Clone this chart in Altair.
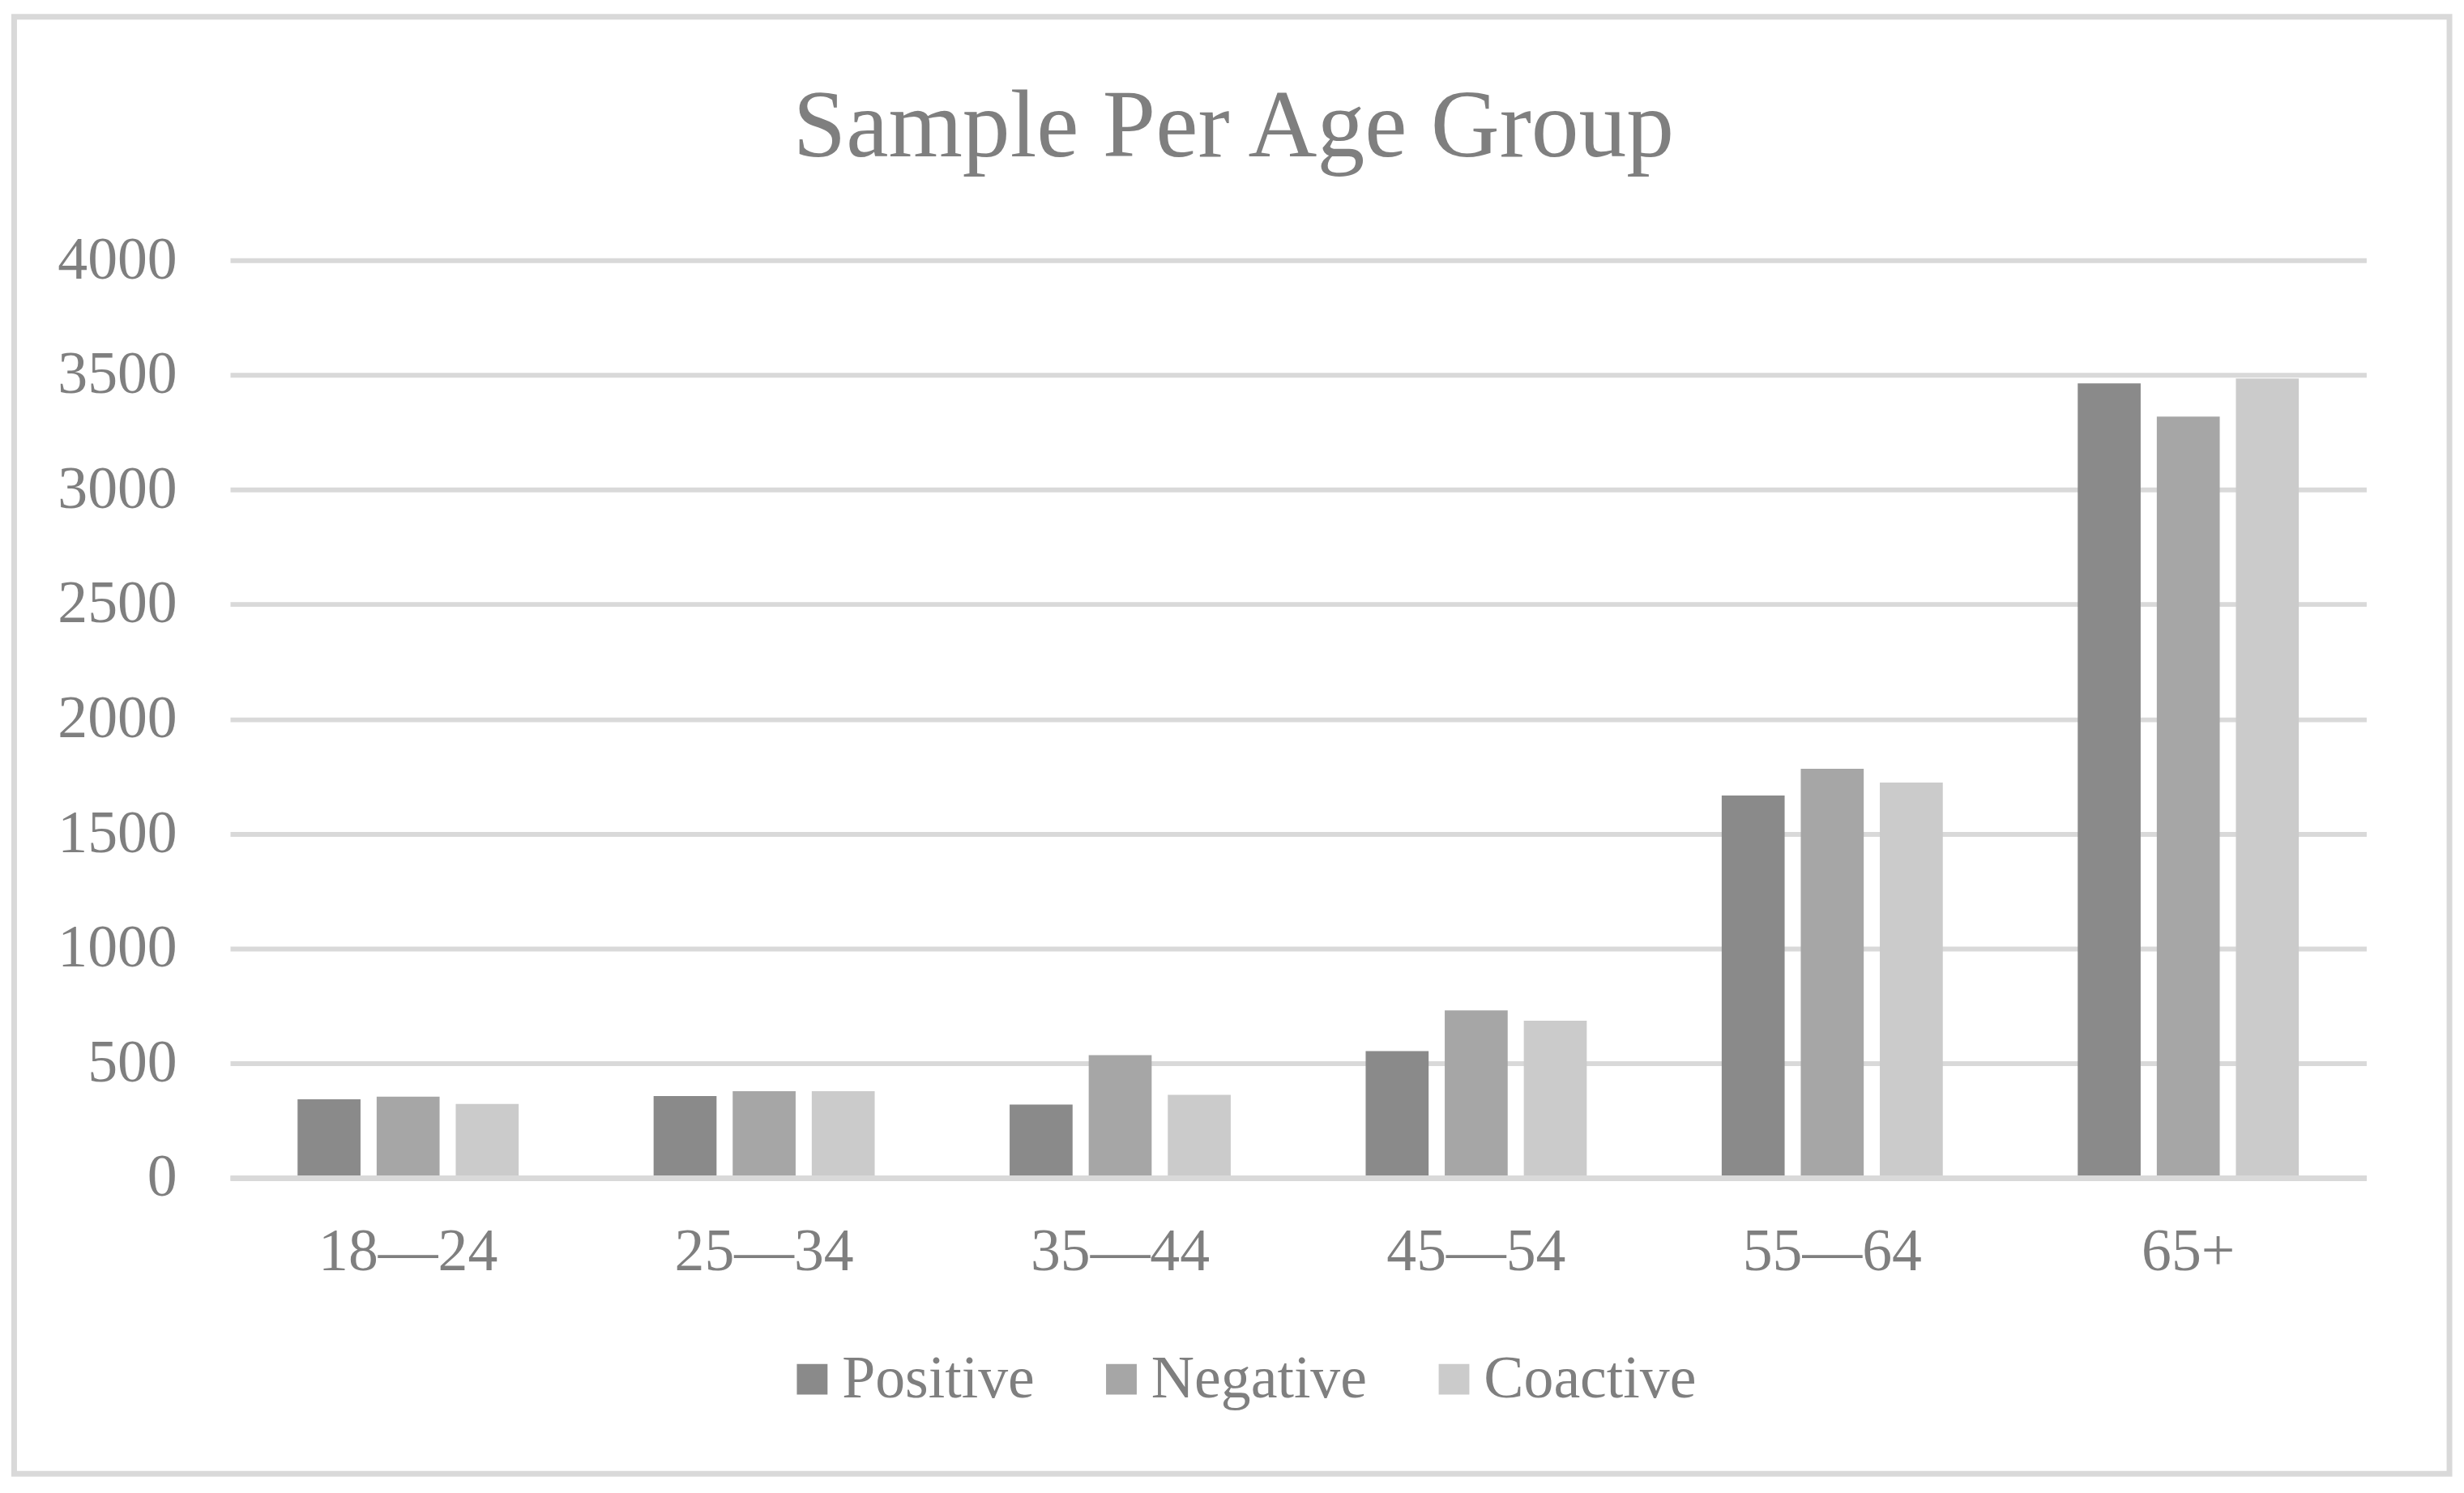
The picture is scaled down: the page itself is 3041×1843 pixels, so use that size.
import altair as alt
import pandas as pd

categories = ["18—24", "25—34", "35—44", "45—54", "55—64", "65+"]
series = ["Positive", "Negative", "Coactive"]
positive = [343, 357, 320, 553, 1667, 3463]
negative = [354, 378, 535, 730, 1783, 3318]
coactive = [322, 378, 362, 685, 1723, 3484]
y_ticks = [0, 500, 1000, 1500, 2000, 2500, 3000, 3500, 4000]
colors = ["#8a8a8a", "#a6a6a6", "#cbcbcb"]

rows = []
for name, vals in zip(series, [positive, negative, coactive]):
    for c, v in zip(categories, vals):
        rows.append({"age": c, "series": name, "value": v})
df = pd.DataFrame(rows)

FONT = "Liberation Serif"
TXT = "#7f7f7f"
GRID = "#d9d9d9"

bars = alt.Chart(df).mark_bar().encode(
    x=alt.X("age:N", sort=categories,
            scale=alt.Scale(paddingInner=0.379, paddingOuter=0.1895),
            axis=alt.Axis(title=None, labelAngle=0, ticks=False, tickSize=0,
                          domain=True, domainColor=GRID, domainWidth=7, zindex=1,
                          labelFont=FONT, labelFontSize=74, labelColor=TXT, labelLimit=1000,
                          labelBaseline="alphabetic", labelPadding=114, grid=False)),
    xOffset=alt.XOffset("series:N", sort=series,
                        scale=alt.Scale(paddingInner=0.204, paddingOuter=0)),
    y=alt.Y("value:Q", scale=alt.Scale(domain=[0, 4000], nice=False),
            axis=alt.Axis(title=None, values=y_ticks, format="d", ticks=False, tickSize=0,
                          domain=False, grid=True, gridColor=GRID, gridWidth=6,
                          labelFont=FONT, labelFontSize=74, labelColor=TXT,
                          labelPadding=66)),
    color=alt.Color("series:N", sort=series,
                    scale=alt.Scale(domain=series, range=colors),
                    legend=alt.Legend(title=None, orient="none", legendX=684, legendY=1349.5,
                                      direction="horizontal", symbolType="square",
                                      symbolSize=1444, symbolStrokeWidth=0,
                                      labelFont=FONT, labelFontSize=74, labelColor=TXT,
                                      labelLimit=1000,
                                      labelOffset=0, columnPadding=70, padding=0)),
)

border = alt.Chart(pd.DataFrame({"k": [0]})).mark_rect(
    fillOpacity=0, stroke=GRID, strokeWidth=7
).encode(
    x=alt.value(-267.5), x2=alt.value(2749),
    y=alt.value(-301.5), y2=alt.value(1503.5),
)

chart = alt.layer(border, bars).properties(
    width=2646, height=1137,
    padding=6,
    title=alt.TitleParams("Sample Per Age Group", font=FONT, fontSize=118,
                          fontWeight="normal", color=TXT, anchor="middle",
                          baseline="alphabetic", dx=-80, offset=-294),
).configure_view(stroke=None)

chart.save("out.html", embed_options={"renderer": "svg", "actions": False})
